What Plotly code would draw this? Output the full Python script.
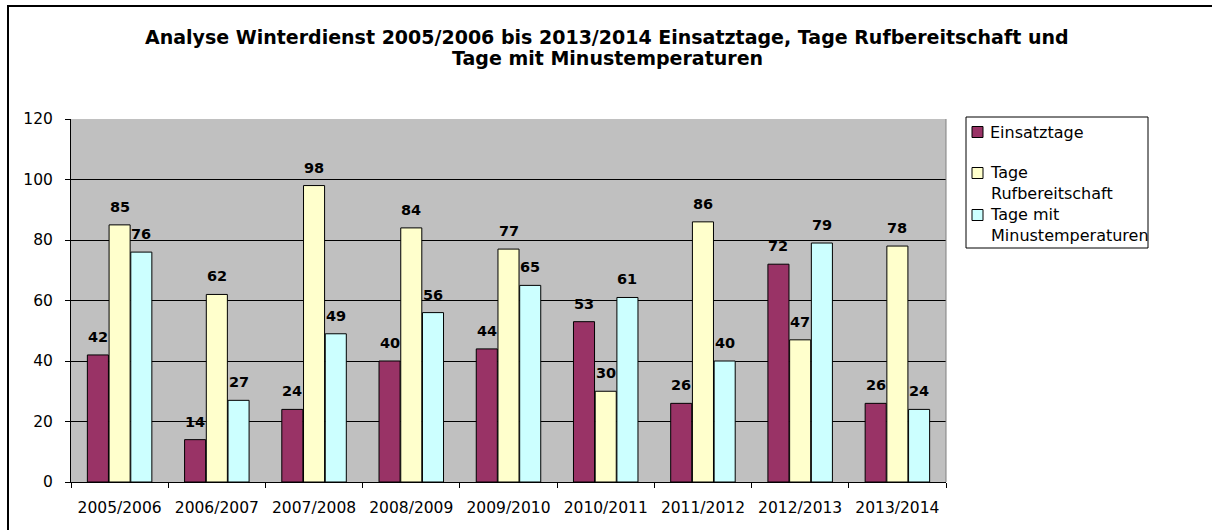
import plotly.graph_objects as go

# ---- data ----
categories = ["2005/2006", "2006/2007", "2007/2008", "2008/2009", "2009/2010",
              "2010/2011", "2011/2012", "2012/2013", "2013/2014"]
einsatztage = [42, 14, 24, 40, 44, 53, 26, 72, 26]
rufbereitschaft = [85, 62, 98, 84, 77, 30, 86, 47, 78]
minustemperaturen = [76, 27, 49, 56, 65, 61, 40, 79, 24]
series_names = ["Einsatztage", "Tage<br>Rufbereitschaft", "Tage mit<br>Minustemperaturen"]
series_values = [einsatztage, rufbereitschaft, minustemperaturen]
y_ticks = [0, 20, 40, 60, 80, 100, 120]
title_lines = ["Analyse Winterdienst 2005/2006 bis 2013/2014 Einsatztage, Tage Rufbereitschaft und",
               "Tage mit Minustemperaturen"]

# ---- style ----
colors = ["#993366", "#FFFFCC", "#CCFFFF"]
FONT = "DejaVu Sans"
W, H = 1212, 530
L, R, T, B = 71, 266, 119, 48
plot_w = W - L - R
plot_h = H - T - B
BARGAP = 0.33
BARGROUPGAP = 0.03


def px_x(p):
    return (p - L) / plot_w


def px_y(p):
    return (H - B - p) / plot_h


fig = go.Figure()
for name, vals, col in zip(series_names, series_values, colors):
    fig.add_trace(go.Bar(
        x=categories, y=vals, name=name.replace("<br>", " "),
        marker=dict(color=col, line=dict(color="black", width=1)),
        showlegend=False,
    ))

annotations = []
# title (two lines, Excel-like line spacing)
for line, ty in zip(title_lines, [37, 58]):
    annotations.append(dict(
        x=px_x(607), y=px_y(ty), xref="paper", yref="paper", text=f"<b>{line}</b>",
        showarrow=False, xanchor="center", yanchor="middle",
        font=dict(family=FONT, size=19, color="black"),
    ))

# data labels
n = len(series_values)
slot = plot_w / len(categories) * (1 - BARGAP) / n
for i, vals in enumerate(series_values):
    for c, v in zip(categories, vals):
        annotations.append(dict(
            x=c, y=v, xref="x", yref="y", text=f"<b>{v}</b>", showarrow=False,
            xanchor="center", yanchor="bottom", xshift=(i - (n - 1) / 2) * slot, yshift=8,
            font=dict(family=FONT, size=14.5, color="black"),
        ))

shapes = []
# outer chart border (only left/top visible in the picture)
shapes.append(dict(type="rect", xref="paper", yref="paper",
                   x0=px_x(8), x1=px_x(W + 20), y0=px_y(H + 20), y1=px_y(6),
                   line=dict(color="black", width=2), fillcolor="rgba(0,0,0,0)", layer="below"))
# right frame of plot area
shapes.append(dict(type="line", xref="paper", yref="paper", x0=1, x1=1, y0=0, y1=1,
                   line=dict(color="#808080", width=1)))

# manual legend
shapes.append(dict(type="rect", xref="paper", yref="paper",
                   x0=px_x(966), x1=px_x(1148), y0=px_y(248), y1=px_y(117),
                   line=dict(color="black", width=1), fillcolor="white"))
legend_first_line = [132, 173, 215]
LEG_FS = 16
line_h = 1.3 * LEG_FS
for name, col, ly in zip(series_names, colors, legend_first_line):
    nlines = name.count("<br>") + 1
    shapes.append(dict(type="rect", xref="paper", yref="paper",
                       x0=px_x(972), x1=px_x(983), y0=px_y(ly + 5.5), y1=px_y(ly - 5.5),
                       line=dict(color="black", width=1), fillcolor=col))
    annotations.append(dict(
        x=px_x(988), y=px_y(ly + (nlines - 1) * line_h / 2), xref="paper", yref="paper",
        text=name, showarrow=False, xanchor="left", yanchor="middle", align="left",
        font=dict(family=FONT, size=LEG_FS, color="black"),
    ))

fig.update_layout(
    width=W, height=H,
    margin=dict(l=L, r=R, t=T, b=B, pad=0),
    paper_bgcolor="white", plot_bgcolor="#C0C0C0",
    font=dict(family=FONT, size=15.5, color="black"),
    barmode="group", bargap=BARGAP, bargroupgap=BARGROUPGAP,
    xaxis=dict(type="category", tickson="boundaries", ticks="outside", ticklen=5,
               tickcolor="black", showline=True, linecolor="black", linewidth=1,
               showgrid=False, ticklabelstandoff=11, tickfont=dict(size=15.5)),
    yaxis=dict(range=[0, 120], tickvals=y_ticks, ticks="outside", ticklen=5,
               tickcolor="black", showline=True, linecolor="black", linewidth=1,
               showgrid=True, gridcolor="black", gridwidth=1, zeroline=False,
               ticklabelstandoff=9, tickfont=dict(size=15.5)),
    annotations=annotations,
    shapes=shapes,
    showlegend=False,
)

fig.write_html("out.html", config={"displayModeBar": False},
               post_script="document.body.style.margin='0';document.body.style.overflow='hidden';")
